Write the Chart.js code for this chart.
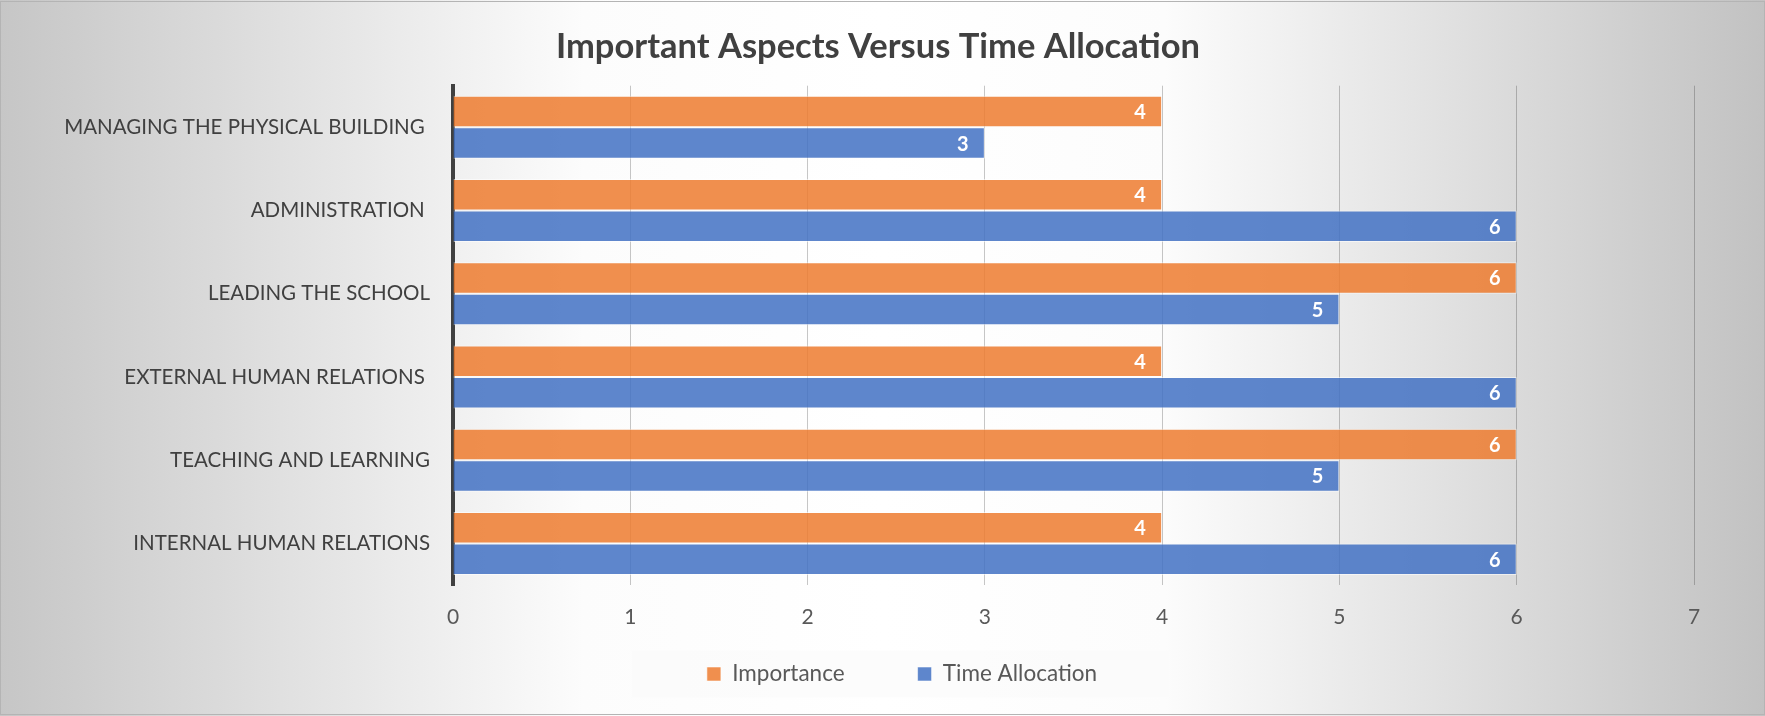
<!DOCTYPE html>
<html>
<head>
<meta charset="utf-8">
<script src="https://cdn.jsdelivr.net/npm/chart.js@4.4.1/dist/chart.umd.min.js"></script>
<style>
  html, body { margin: 0; padding: 0; background: #ffffff; }
  #wrap { width: 1765px; height: 716px; position: relative; }
</style>
</head>
<body>
<div id="wrap"><canvas id="chart" width="1765" height="716"></canvas></div>
<script>
// Categories, listed top to bottom as they appear on the chart
const categories = [
  'MANAGING THE PHYSICAL BUILDING ',
  'ADMINISTRATION ',
  'LEADING THE SCHOOL',
  'EXTERNAL HUMAN RELATIONS ',
  'TEACHING AND LEARNING',
  'INTERNAL HUMAN RELATIONS'
];
const importance = [4, 4, 6, 4, 6, 4];
const timeAllocation = [3, 6, 5, 6, 5, 6];
const seriesNames = ['Importance', 'Time Allocation'];
const xTicks = [0, 1, 2, 3, 4, 5, 6, 7];

const FONT = 'Lato, "Open Sans", sans-serif';
const LEGEND_FONT = 22.5;
const LEGEND_GAP = 73;

// Soft grey-to-white backdrop behind the whole chart, plus a thin frame
const backdrop = {
  id: 'backdrop',
  beforeDraw(chart) {
    const { ctx, width, height } = chart;
    ctx.save();
    const g = ctx.createLinearGradient(0, 0, width, 0);
    g.addColorStop(0, '#c6c6c6');
    g.addColorStop(0.33, '#fcfcfc');
    g.addColorStop(0.5, '#ffffff');
    g.addColorStop(0.66, '#fcfcfc');
    g.addColorStop(1, '#c2c2c2');
    ctx.fillStyle = g;
    ctx.fillRect(0, 0, width, height);
    ctx.strokeStyle = '#b4b4b4';
    ctx.lineWidth = 1;
    ctx.strokeRect(0.5, 1.5, width - 1, height - 3);

    // light panel behind the legend row
    const lg = chart.legend;
    if (lg && lg.legendHitBoxes && lg.legendHitBoxes.length) {
      const hb = lg.legendHitBoxes;
      const first = hb[0], last = hb[hb.length - 1];
      const cy = first.top + first.height / 2;
      const x0 = first.left - 75;
      const x1 = last.left + last.width + 72;
      ctx.fillStyle = 'rgba(250,250,250,0.65)';
      ctx.fillRect(x0, cy - 23.5, x1 - x0, 47);
    }
    ctx.restore();
  }
};

// Place the legend row: a little right of centre, centred at y = 674
const legendPlacement = {
  id: 'legendPlacement',
  afterLayout(chart) {
    const lg = chart.legend;
    if (!lg) return;
    const dx = 24;
    const dy = 674 - (lg.top + LEGEND_GAP + LEGEND_FONT / 2);
    lg.left += dx; lg.right += dx;
    lg.top += dy;
    lg.bottom = chart.height;
  }
};

// White value labels just inside the end of each bar
const barValues = {
  id: 'barValues',
  afterDatasetsDraw(chart) {
    const { ctx } = chart;
    ctx.save();
    ctx.font = 'bold 20px ' + FONT;
    ctx.fillStyle = '#ffffff';
    ctx.textAlign = 'center';
    ctx.textBaseline = 'middle';
    chart.data.datasets.forEach((ds, i) => {
      const meta = chart.getDatasetMeta(i);
      meta.data.forEach((bar, j) => {
        ctx.fillText(String(ds.data[j]), bar.x - 22, bar.y + 1);
      });
    });
    ctx.restore();
  }
};

new Chart(document.getElementById('chart'), {
  type: 'bar',
  data: {
    labels: categories,
    datasets: [
      {
        label: seriesNames[0],
        data: importance,
        backgroundColor: 'rgba(237,125,49,0.86)',
        borderColor: 'rgba(255,255,255,0.55)',
        borderWidth: 1
      },
      {
        label: seriesNames[1],
        data: timeAllocation,
        backgroundColor: 'rgba(68,114,196,0.86)',
        borderColor: 'rgba(255,255,255,0.55)',
        borderWidth: 1
      }
    ]
  },
  options: {
    indexAxis: 'y',
    responsive: false,
    animation: false,
    layout: { padding: { left: 62, right: 71, top: 0, bottom: 0 } },
    datasets: {
      bar: { categoryPercentage: 0.757, barPercentage: 1 }
    },
    scales: {
      x: {
        min: xTicks[0],
        max: xTicks[xTicks.length - 1],
        afterBuildTicks(scale) { scale.ticks = xTicks.map(v => ({ value: v })); },
        afterFit(scale) { scale.height = 50; },
        grid: { color: 'rgba(0,0,0,0.22)', lineWidth: 1, drawTicks: false },
        border: { display: false },
        ticks: {
          padding: 19.4,
          color: '#595959',
          font: { family: FONT, size: 21 }
        }
      },
      y: {
        afterFit(scale) { scale.width = 453 - 62; },
        grid: { display: false, drawTicks: false },
        border: { display: true, color: '#404040', width: 4 },
        ticks: {
          padding: 23,
          color: '#404040',
          font: { family: FONT, size: 20.5 }
        }
      }
    },
    plugins: {
      title: {
        display: true,
        text: 'Important Aspects Versus Time Allocation',
        color: '#404040',
        font: { family: FONT, size: 34.5, weight: 'bold' },
        padding: { top: 26.3, bottom: 18.0 }
      },
      legend: {
        display: true,
        position: 'bottom',
        maxHeight: 81,
        labels: {
          color: '#595959',
          font: { family: FONT, size: LEGEND_FONT },
          boxWidth: 14,
          boxHeight: 14,
          padding: LEGEND_GAP
        }
      },
      tooltip: { enabled: false }
    }
  },
  plugins: [backdrop, legendPlacement, barValues]
});
</script>
</body>
</html>
